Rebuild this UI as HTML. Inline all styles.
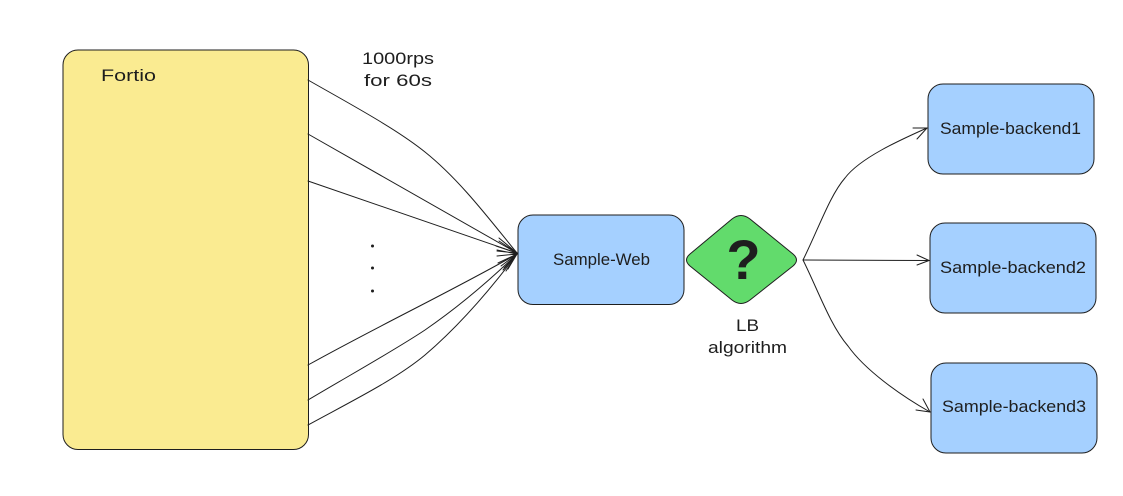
<!DOCTYPE html>
<html>
<head>
<meta charset="utf-8">
<style>
html,body{margin:0;padding:0;background:#fff;width:1123px;height:496px;overflow:hidden}
svg{display:block}
text{font-family:"Liberation Sans",sans-serif;fill:#1e1e1e;font-size:17px}
.l{fill:none;stroke:#1e1e1e;stroke-width:1;stroke-linecap:round;stroke-linejoin:round}
.s{stroke:#1e1e1e;stroke-width:1}
</style>
</head>
<body>
<svg width="1123" height="496" viewBox="0 0 1123 496" xmlns="http://www.w3.org/2000/svg">
<rect width="1123" height="496" fill="#fff"/>
<rect class="s" x="63" y="50" width="245.500" height="399.500" rx="15" fill="#faeb91"/>
<rect class="s" x="518" y="215" width="166" height="89.500" rx="15" fill="#a5d0ff"/>
<rect class="s" x="928" y="84" width="166" height="90" rx="15" fill="#a5d0ff"/>
<rect class="s" x="930" y="223" width="166" height="90" rx="15" fill="#a5d0ff"/>
<rect class="s" x="931" y="363" width="166" height="90" rx="15" fill="#a5d0ff"/>
<path class="s" d="M732 219Q741 212 750 219L793 254Q800 260 793 266L750 300Q741 307 732 300L690 266Q683 260 690 254Z" fill="#62db6c"/>
<text x="743.500" y="279" text-anchor="middle" style="font-size:56px;font-weight:bold">?</text>

<path class="l" d="M308 80C350 104 395 128 425 152C460 180 490 220 517 253"/>
<path class="l" d="M308 134L517 253"/>
<path class="l" d="M308 181L517 253"/>
<path class="l" d="M308 365C380 325 450 292 517 254"/>
<path class="l" d="M308 400C350 375 395 350 425 330C460 306 490 280 517 254"/>
<path class="l" d="M308 425C350 402 395 380 425 355C460 325 490 290 517 254"/>
<path class="l" d="M499 238L517 253L496 246M497 251L517 253L499 241M497 256L517 254L497 250M503 270L517 254L498 263M506 271L517 254L501 266M508 269L517 254L504 268"/>
<path class="l" stroke-width="2" d="M512 249L517 254L512 258"/>

<path class="l" d="M803 260C818 230 830 195 845 178C860 158 900 140 927 128"/>
<path class="l" d="M913 128L927 128L917 139"/>
<path class="l" d="M803 260L929 260.500"/>
<path class="l" d="M917 255L929 260.500L917 265"/>
<path class="l" d="M803 260C818 290 830 325 848 346C865 370 900 395 930 412"/>
<path class="l" d="M923 399L930 412L916 410"/>

<text x="101" y="81" textLength="55" lengthAdjust="spacingAndGlyphs">Fortio</text>
<text x="362" y="64" textLength="72" lengthAdjust="spacingAndGlyphs">1000rps</text>
<text x="364" y="86" textLength="68" lengthAdjust="spacingAndGlyphs">for 60s</text>
<text x="553" y="265" textLength="97" lengthAdjust="spacingAndGlyphs">Sample-Web</text>
<text x="736" y="331" textLength="23" lengthAdjust="spacingAndGlyphs">LB</text>
<text x="708" y="353" textLength="79" lengthAdjust="spacingAndGlyphs">algorithm</text>
<text x="940" y="134" textLength="141" lengthAdjust="spacingAndGlyphs">Sample-backend1</text>
<text x="940" y="273" textLength="146" lengthAdjust="spacingAndGlyphs">Sample-backend2</text>
<text x="942" y="412" textLength="144" lengthAdjust="spacingAndGlyphs">Sample-backend3</text>

<circle cx="372.500" cy="246" r="1.500" fill="#1e1e1e"/>
<circle cx="372.500" cy="268" r="1.500" fill="#1e1e1e"/>
<circle cx="372.500" cy="291" r="1.500" fill="#1e1e1e"/>
</svg>
</body>
</html>
